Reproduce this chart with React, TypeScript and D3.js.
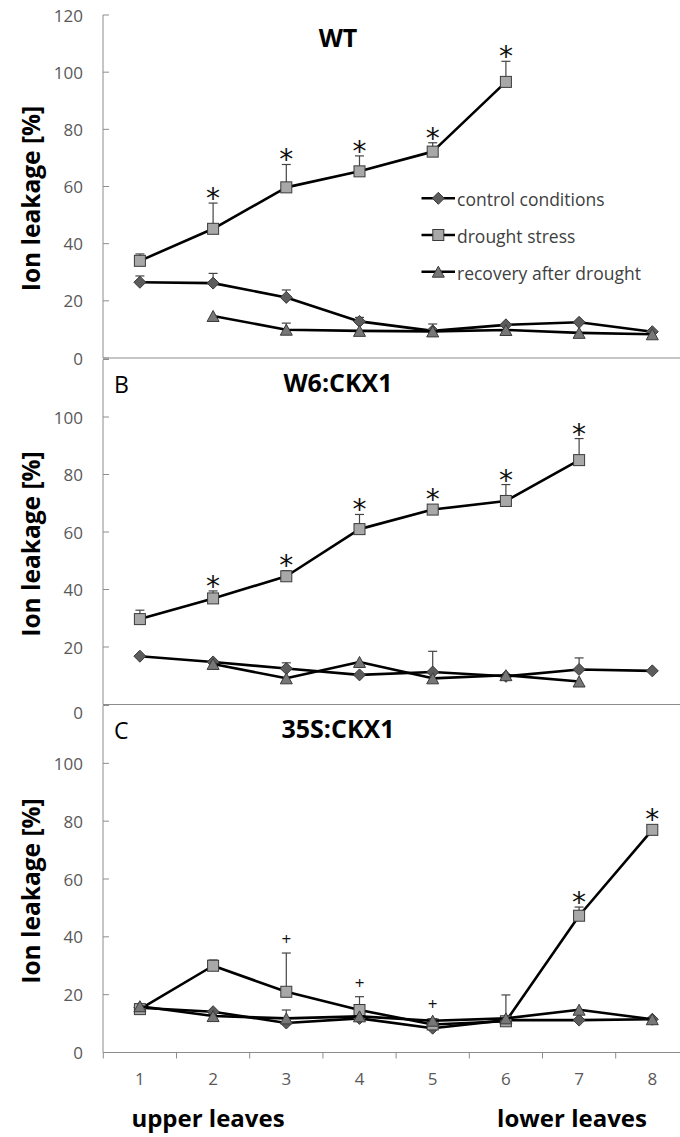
import React from "react";
import * as d3 from "d3";

// ---------- data ----------
const LEAVES = ["1", "2", "3", "4", "5", "6", "7", "8"];
const Y_TICKS = [0, 20, 40, 60, 80, 100, 120];

// Panel A – WT
const WT_CONTROL = [26.5, 26.2, 21.2, 12.8, 9.5, 11.6, 12.5, 9.2];
const WT_CONTROL_ERR = [2.2, 3.4, 2.6, 1.4, 2.4, 0, 0, 0];
const WT_DROUGHT = [34.0, 45.2, 59.7, 65.3, 72.2, 96.6, null, null];
const WT_DROUGHT_ERR = [2.4, 9.0, 8.0, 5.4, 3.1, 7.2, 0, 0];
const WT_RECOVERY = [null, 14.7, 9.9, 9.5, 9.3, 9.8, 8.8, 8.3];
const WT_RECOVERY_ERR = [0, 0, 2.3, 0, 0, 0, 0, 0];
const WT_SIG = ["", "*", "*", "*", "*", "*", "", ""];

// Panel B – W6:CKX1
const B_CONTROL = [16.8, 14.8, 12.5, 10.3, 11.3, 9.8, 12.2, 11.7];
const B_CONTROL_ERR = [0, 0, 2.0, 0, 7.2, 0, 4.0, 0];
const B_DROUGHT = [29.7, 36.9, 44.6, 61.0, 67.8, 70.8, 85.0, null];
const B_DROUGHT_ERR = [3.1, 2.6, 1.9, 5.1, 1.0, 5.7, 7.5, 0];
const B_RECOVERY = [null, 14.1, 9.1, 14.8, 9.1, 10.2, 8.0, null];
const B_RECOVERY_ERR = [0, 0, 0, 0, 0, 0, 0, 0];
const B_SIG = ["", "*", "*", "*", "*", "*", "*", ""];

// Panel C – 35S:CKX1
const C_CONTROL = [15.5, 14.1, 10.2, 11.8, 8.4, 11.2, 11.2, 11.5];
const C_CONTROL_ERR = [0, 0, 4.5, 0, 0, 0, 0, 0];
const C_DROUGHT = [15.0, 30.0, 21.0, 14.7, 9.7, 10.8, 47.3, 77.0];
const C_DROUGHT_ERR = [0, 2.0, 13.4, 4.6, 2.0, 9.1, 3.0, 0];
const C_RECOVERY = [16.0, 12.6, 11.8, 12.5, 11.0, 11.8, 14.8, 11.5];
const C_RECOVERY_ERR = [0, 0, 0, 0, 0, 0, 0, 0];
const C_SIG = ["", "", "+", "+", "+", "", "*", "*"];

const LEGEND = ["control conditions", "drought stress", "recovery after drought"];

type Series = { values: (number | null)[]; err: number[]; marker: string };

const PANELS = [
  {
    title: "WT", letter: "", top: 15, bottom: 358,
    series: [
      { values: WT_CONTROL, err: WT_CONTROL_ERR, marker: "diamond" },
      { values: WT_DROUGHT, err: WT_DROUGHT_ERR, marker: "square" },
      { values: WT_RECOVERY, err: WT_RECOVERY_ERR, marker: "triangle" },
    ] as Series[],
    sig: WT_SIG, labels: [0, 20, 40, 60, 80, 100, 120], zeroShift: 0,
  },
  {
    title: "W6:CKX1", letter: "B", top: 359.5, bottom: 704.5,
    series: [
      { values: B_CONTROL, err: B_CONTROL_ERR, marker: "diamond" },
      { values: B_DROUGHT, err: B_DROUGHT_ERR, marker: "square" },
      { values: B_RECOVERY, err: B_RECOVERY_ERR, marker: "triangle" },
    ] as Series[],
    sig: B_SIG, labels: [0, 20, 40, 60, 80, 100], zeroShift: 8,
  },
  {
    title: "35S:CKX1", letter: "C", top: 705.5, bottom: 1052.5,
    series: [
      { values: C_CONTROL, err: C_CONTROL_ERR, marker: "diamond" },
      { values: C_DROUGHT, err: C_DROUGHT_ERR, marker: "square" },
      { values: C_RECOVERY, err: C_RECOVERY_ERR, marker: "triangle" },
    ] as Series[],
    sig: C_SIG, labels: [0, 20, 40, 60, 80, 100], zeroShift: 0,
  },
];

// ---------- layout ----------
const W = 680, H = 1137;
const AXIS_X = 103;
const BAND0 = 103.3, BANDW = 73.2;
const AXIS_COLOR = "#8c8c8c";
const TICK_TEXT = "#595959";
const FONT = "'Open Sans', 'Liberation Sans', sans-serif";

const x = d3.scaleBand<string>().domain(LEAVES).range([BAND0, BAND0 + BANDW * LEAVES.length]).padding(0);
const cx = (c: string) => (x(c) as number) + x.bandwidth() / 2;

function Marker({ type, px, py }: { type: string; px: number; py: number }) {
  if (type === "square") {
    return <rect x={px - 5.5} y={py - 5.5} width={11} height={11} fill="#a8a8a8" stroke="#3a3a3a" strokeWidth={1} />;
  }
  if (type === "diamond") {
    const r = 6;
    return <path d={`M${px},${py - r}L${px + r},${py}L${px},${py + r}L${px - r},${py}Z`} fill="#5c5c5c" stroke="#3a3a3a" strokeWidth={1} />;
  }
  const h = 11, w = 12;
  return <path d={`M${px},${py - h / 2}L${px + w / 2},${py + h / 2}L${px - w / 2},${py + h / 2}Z`} fill="#777777" stroke="#3a3a3a" strokeWidth={1} />;
}

function Panel({ p }: { p: typeof PANELS[number] }) {
  const y = d3.scaleLinear().domain([0, 120]).range([p.bottom, p.top]);
  const line = d3.line<number | null>()
    .defined((d) => d !== null)
    .x((_, i) => cx(LEAVES[i]))
    .y((d) => y(d as number));
  const drought = p.series[1];
  return (
    <g>
      {/* y axis */}
      <line x1={AXIS_X} x2={AXIS_X} y1={p.top} y2={p.bottom} stroke={AXIS_COLOR} strokeWidth={1} />
      {Y_TICKS.map((t) => (
        <line key={"t" + t} x1={AXIS_X} x2={AXIS_X + 6} y1={y(t)} y2={y(t)} stroke={AXIS_COLOR} strokeWidth={1} />
      ))}
      {p.labels.map((t) => (
        <text key={"l" + t} x={83} y={y(t) + (t === 0 ? p.zeroShift : 0)} textAnchor="end" dominantBaseline="central"
          fontFamily={FONT} fontSize={17} fill={TICK_TEXT}>{t}</text>
      ))}
      {/* x axis */}
      <line x1={AXIS_X} x2={W} y1={p.bottom} y2={p.bottom} stroke={AXIS_COLOR} strokeWidth={1} />
      {/* y label */}
      <text transform={`translate(30,${(p.top + p.bottom) / 2 + 12}) rotate(-90)`} textAnchor="middle" dominantBaseline="central"
        fontFamily={FONT} fontSize={24.5} fontWeight={700} fill="#000">Ion leakage [%]</text>
      {/* title */}
      <text x={338} y={p.top + 32} textAnchor="middle" fontFamily={FONT} fontSize={25} fontWeight={700} fill="#000">{p.title}</text>
      {p.letter && (
        <text x={114} y={p.top + 33} fontFamily={FONT} fontSize={23} fill="#000">{p.letter}</text>
      )}
      {/* series */}
      {p.series.map((s, si) => (
        <g key={si}>
          {s.values.map((v, i) =>
            v !== null && s.err[i] > 0 ? (
              <g key={"e" + i}>
                <line x1={cx(LEAVES[i])} x2={cx(LEAVES[i])} y1={y(v)} y2={y(v + s.err[i])} stroke="#444" strokeWidth={1.2} />
                <line x1={cx(LEAVES[i]) - 4.5} x2={cx(LEAVES[i]) + 4.5} y1={y(v + s.err[i])} y2={y(v + s.err[i])} stroke="#444" strokeWidth={1.2} />
              </g>
            ) : null
          )}
          <path d={line(s.values) || ""} fill="none" stroke="#000" strokeWidth={2.6} strokeLinejoin="round" />
          {s.values.map((v, i) =>
            v !== null ? <Marker key={"m" + i} type={s.marker} px={cx(LEAVES[i])} py={y(v)} /> : null
          )}
        </g>
      ))}
      {/* significance */}
      {p.sig.map((sym, i) => {
        if (!sym) return null;
        const v = drought.values[i] as number;
        const top = Math.min(y(v + drought.err[i]), y(v) - 6);
        return sym === "*" ? (
          <text key={"s" + i} x={cx(LEAVES[i])} y={top + 5} textAnchor="middle" fontFamily="'DejaVu Sans', sans-serif" fontSize={28} fill="#111">*</text>
        ) : (
          <text key={"s" + i} x={cx(LEAVES[i])} y={top - 8} textAnchor="middle" fontFamily={FONT} fontSize={17} fill="#111">+</text>
        );
      })}
    </g>
  );
}

export default function App() {
  const pC = PANELS[2];
  const legendRows = [198.3, 235, 271.7];
  const legendMarkers = ["diamond", "square", "triangle"];
  return (
    <svg width={W} height={H} viewBox={`0 0 ${W} ${H}`} style={{ position: "absolute", left: 0, top: 0, background: "#fff" }}>
      <rect width={W} height={H} fill="#fff" />
      {PANELS.map((p, i) => <Panel key={i} p={p} />)}
      {/* x ticks & labels for bottom panel */}
      {LEAVES.map((c) => (
        <line key={"xt" + c} x1={x(c) as number} x2={x(c) as number} y1={pC.bottom} y2={pC.bottom + 6} stroke={AXIS_COLOR} strokeWidth={1} />
      ))}
      {LEAVES.map((c) => (
        <text key={"xl" + c} x={cx(c)} y={1078} textAnchor="middle" dominantBaseline="central" fontFamily={FONT} fontSize={17} fill={TICK_TEXT}>{c}</text>
      ))}
      <text x={208} y={1127} textAnchor="middle" fontFamily={FONT} fontSize={24} fontWeight={700} fill="#000">upper leaves</text>
      <text x={572} y={1127} textAnchor="middle" fontFamily={FONT} fontSize={24} fontWeight={700} fill="#000">lower leaves</text>
      {/* legend */}
      {LEGEND.map((name, i) => (
        <g key={name}>
          <line x1={421.5} x2={455} y1={legendRows[i]} y2={legendRows[i]} stroke="#000" strokeWidth={2.6} />
          <Marker type={legendMarkers[i]} px={438.3} py={legendRows[i]} />
          <text x={457} y={legendRows[i] + 1} dominantBaseline="central" fontFamily={FONT} fontSize={17.5} fill="#404040">{name}</text>
        </g>
      ))}
    </svg>
  );
}
